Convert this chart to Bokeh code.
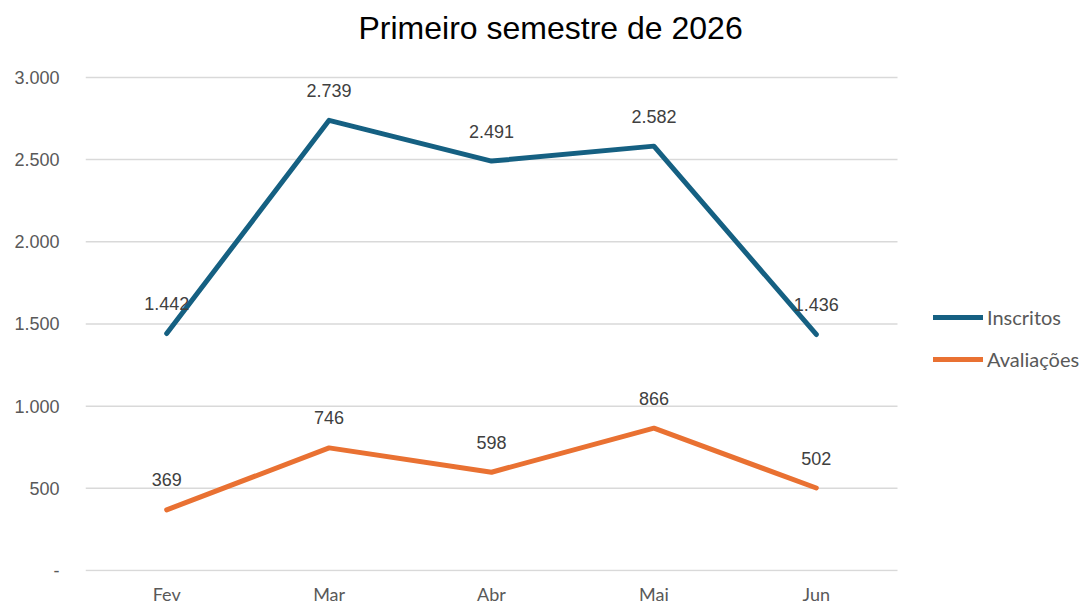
from bokeh.plotting import figure
from bokeh.models import ColumnDataSource, Range1d, FixedTicker, Legend, LegendItem, LabelSet, Title
from bokeh.core.properties import value
from bokeh.embed import file_html
from bokeh.resources import INLINE

months = ["Fev", "Mar", "Abr", "Mai", "Jun"]
inscritos = [1442, 2739, 2491, 2582, 1436]
avaliacoes = [369, 746, 598, 866, 502]
y_ticks = [0, 500, 1000, 1500, 2000, 2500, 3000]
y_tick_labels = ["-", "500", "1.000", "1.500", "2.000", "2.500", "3.000"]
title_text = "Primeiro semestre de 2026"

def fmt(v):
    return f"{v:,}".replace(",", ".")

BLUE = "#156082"
ORANGE = "#E97132"
GRAY = "#595959"

# layout (pixels)
W, H = 1084, 607
LEFT, TOP, BOTTOM = 85, 72, 36
PLOT_W = 812  # width of the category area with gridlines
n = len(months)
xs = list(range(n))
px_per_cat = PLOT_W / n
x_end = -0.5 + (W - LEFT) / px_per_cat
y_pad_top, y_pad_bottom = 30, 6

p = figure(width=W, height=H, output_backend="svg", toolbar_location=None,
           min_border_left=LEFT, min_border_right=0, min_border_top=TOP,
           min_border_bottom=BOTTOM)
p.title = None
p.x_range = Range1d(-0.5, x_end)
p.y_range = Range1d(y_ticks[0] - y_pad_bottom, y_ticks[-1] + y_pad_top)
p.outline_line_color = None
p.background_fill_color = "white"

# spacer between frame and title (first added = closest to the frame)
spacer = Title(text="\u00a0", text_font_size="14px", standoff=7, text_color="white")
p.add_layout(spacer, "above")
t = Title(text=title_text, align="left", text_font="Liberation Sans",
          text_font_size="32px", text_font_style="normal", text_color="#000000",
          offset=273, standoff=0, vertical_align="top")
p.add_layout(t, "above")

# gridlines (only across the category area)
p.segment(x0=[-0.5] * len(y_ticks), x1=[n - 0.5] * len(y_ticks), y0=y_ticks, y1=y_ticks,
          line_color="#d9d9d9", line_width=1.5)

src_i = ColumnDataSource(dict(x=xs, y=inscritos, lab=[fmt(v) for v in inscritos]))
src_a = ColumnDataSource(dict(x=xs, y=avaliacoes, lab=[fmt(v) for v in avaliacoes]))

for src in (src_i, src_a):
    ls = LabelSet(x="x", y="y", text="lab", source=src, y_offset=30, text_align="center",
                  text_baseline="middle", text_font=value("Liberation Sans"),
                  text_font_size=value("18px"), text_color="#404040", level="glyph")
    p.add_layout(ls)

r1 = p.line("x", "y", source=src_i, line_color=BLUE, line_width=5, line_cap="round", line_join="round")
r2 = p.line("x", "y", source=src_a, line_color=ORANGE, line_width=5, line_cap="round", line_join="round")

p.xaxis.ticker = FixedTicker(ticks=xs)
p.xaxis.major_label_overrides = {i: m for i, m in zip(xs, months)}
p.yaxis.ticker = FixedTicker(ticks=y_ticks)
p.yaxis.major_label_overrides = {t_: l for t_, l in zip(y_ticks, y_tick_labels)}
for ax in (p.xaxis[0], p.yaxis[0]):
    ax.axis_line_color = None
    ax.major_tick_line_color = None
    ax.minor_tick_line_color = None
    ax.major_label_text_color = GRAY
p.yaxis.major_label_text_font = "Liberation Sans"
p.yaxis.major_label_text_font_size = "18px"
p.yaxis.major_label_standoff = 20
p.xaxis.major_label_text_font = "Lato"
p.xaxis.major_label_text_font_size = "18px"
p.xaxis.major_label_standoff = 5

p.xgrid.grid_line_color = None
p.ygrid.grid_line_color = None

legend_bottom_px = 371
legend = Legend(items=[LegendItem(label="Inscritos", renderers=[r1]),
                       LegendItem(label="Avaliações", renderers=[r2])],
                location=(933 - LEFT, (H - BOTTOM) - legend_bottom_px),
                border_line_color=None, background_fill_alpha=0,
                padding=0, margin=0, spacing=18, glyph_width=50, glyph_height=24,
                label_height=24, label_standoff=4, label_text_font="Lato",
                label_text_font_size="20px", label_text_color=GRAY)
p.add_layout(legend)

open("out.html", "w").write(file_html(p, INLINE))
